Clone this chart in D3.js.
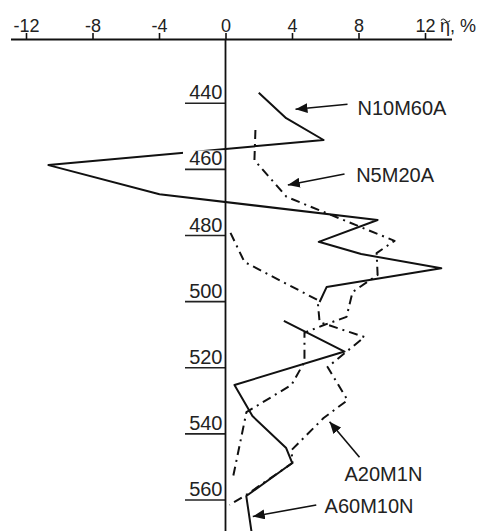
<!DOCTYPE html>
<html>
<head>
<meta charset="utf-8">
<script src="https://cdn.jsdelivr.net/npm/d3@7/dist/d3.min.js"></script>
<style>
  html, body { margin: 0; padding: 0; background: #fff; }
  svg { display: block; }
  text { font-family: "Liberation Sans", Arial, sans-serif; fill: #222; }
</style>
</head>
<body>
<svg id="chart" width="491" height="531"></svg>
<script>
// ---- data ----
const xTicks = [-12, -8, -4, 0, 4, 8, 12];
const yTicks = [440, 460, 480, 500, 520, 540, 560];
const xAxisTitle = "η, %";   // η carries a tilde accent drawn above it

const seriesNames = ["N10M60A", "N5M20A", "A20M1N", "A60M10N"];

const n10m60aX = [2.0, 3.65, 5.9, -10.65, -3.97, 9.15, 5.61, 8.16, 12.98, 6.08, 5.66];
const n10m60aY = [436.8, 444.5, 451.1, 458.7, 467.5, 475.3, 481.9, 485.6, 489.9, 495.6, 500.1];

const n5m20aX = [1.80, 1.74, 3.67, 10.17, 9.09, 9.15, 7.64, 7.28, 5.96, 4.75, 4.75, 3.97, 1.26, 0.42];
const n5m20aY = [448.1, 457.2, 468.3, 481.6, 485.3, 491.9, 497.1, 504.6, 507.0, 509.4, 518.2, 525.2, 533.4, 553.9];

const a20m1nX = [0.30, 1.14, 5.54, 5.66, 8.36, 6.14, 7.34, 5.90, 3.97, 4.03, 1.26, 0.24];
const a20m1nY = [479.2, 488.0, 499.5, 506.2, 510.7, 519.8, 529.8, 535.2, 544.9, 548.8, 558.4, 561.5];

const a60m10nX = [3.51, 7.16, 0.54, 1.62, 3.65, 4.01, 1.25, 1.56];
const a60m10nY = [505.8, 515.1, 525.2, 534.6, 544.3, 548.8, 558.8, 569.4];

// annotation label + arrow (tail -> head), in data units
const labelX = [7.94, 7.86, 7.16, 5.96];
const labelY = [443.5, 463.7, 554.2, 563.8];
const arrowTailX = [7.34, 7.16, 8.06, 5.46];
const arrowTailY = [440.3, 461.4, 547.1, 561.5];
const arrowHeadX = [4.21, 3.75, 6.26, 1.64];
const arrowHeadY = [441.8, 464.7, 536.3, 565.0];

// ---- chart ----
const svg = d3.select("#chart");
const x = d3.scaleLinear().domain([-12, 12]).range([26, 425]);
const y = d3.scaleLinear().domain([440, 560]).range([103.3, 500]);
const axisY = 39.5;

const defs = svg.append("defs");
defs.append("marker")
  .attr("id", "arr").attr("viewBox", "0 0 12 10")
  .attr("refX", 12).attr("refY", 5)
  .attr("markerWidth", 12).attr("markerHeight", 10)
  .attr("markerUnits", "userSpaceOnUse")
  .attr("orient", "auto")
  .append("path").attr("d", "M0,0 L12,5 L0,10 Z").attr("fill", "#111");

const line = d3.line().x(d => x(d[0])).y(d => y(d[1]));
const solidStyle = { stroke: "#111", width: 2, dash: null };
const dashStyle = { stroke: "#111", width: 2, dash: "9,5,2,5" };

const series = [
  { xs: n10m60aX, ys: n10m60aY, st: solidStyle },
  { xs: n5m20aX, ys: n5m20aY, st: dashStyle },
  { xs: a20m1nX, ys: a20m1nY, st: dashStyle },
  { xs: a60m10nX, ys: a60m10nY, st: solidStyle }
];

series.forEach(s => {
  const pts = s.xs.map((v, i) => [v, s.ys[i]]);
  svg.append("path")
    .attr("d", line(pts))
    .attr("fill", "none")
    .attr("stroke", s.st.stroke)
    .attr("stroke-width", s.st.width)
    .attr("stroke-linejoin", "round")
    .attr("stroke-dasharray", s.st.dash);
});

// y tick labels (with white background) and underline
const yg = svg.append("g");
yTicks.forEach(t => {
  const yy = y(t);
  yg.append("rect")
    .attr("x", 183).attr("y", yy - 19)
    .attr("width", x(0) - 1 - 183).attr("height", 18)
    .attr("fill", "#fff");
  yg.append("text")
    .attr("x", x(0) - 3).attr("y", yy - 4)
    .attr("text-anchor", "end")
    .attr("font-size", 20)
    .text(t);
  yg.append("line")
    .attr("x1", 185).attr("x2", x(0))
    .attr("y1", yy).attr("y2", yy)
    .attr("stroke", "#222").attr("stroke-width", 1.6);
});

// vertical axis
svg.append("line")
  .attr("x1", x(0)).attr("x2", x(0))
  .attr("y1", axisY).attr("y2", 531)
  .attr("stroke", "#111").attr("stroke-width", 1.8);

// top axis
const xAxis = d3.axisTop(x).tickValues(xTicks).tickFormat(d => String(d))
  .tickSizeInner(6.5).tickSizeOuter(0).tickPadding(1);
const xg = svg.append("g").attr("transform", `translate(0,${axisY})`).call(xAxis);
xg.select(".domain").remove();
xg.selectAll(".tick line").attr("stroke", "#111").attr("stroke-width", 1.6);
xg.selectAll(".tick text")
  .attr("font-size", 18)
  .attr("font-family", "Liberation Sans, Arial, sans-serif")
  .attr("fill", "#222");
svg.append("line")
  .attr("x1", 11).attr("x2", 452)
  .attr("y1", axisY).attr("y2", axisY)
  .attr("stroke", "#111").attr("stroke-width", 1.8);

// axis title with a drawn tilde accent over the eta
svg.append("text")
  .attr("x", 440).attr("y", 32)
  .attr("font-size", 18)
  .text(xAxisTitle);
svg.append("path")
  .attr("d", "M441,20.5 q2.2,-3 4.5,0 t4.5,0")
  .attr("fill", "none")
  .attr("stroke", "#222")
  .attr("stroke-width", 1.2);

// annotations
seriesNames.forEach((name, i) => {
  svg.append("line")
    .attr("x1", x(arrowTailX[i])).attr("y1", y(arrowTailY[i]))
    .attr("x2", x(arrowHeadX[i])).attr("y2", y(arrowHeadY[i]))
    .attr("stroke", "#111").attr("stroke-width", 1.6)
    .attr("marker-end", "url(#arr)");
  svg.append("text")
    .attr("x", x(labelX[i])).attr("y", y(labelY[i]))
    .attr("font-size", 20)
    .text(name);
});
</script>
</body>
</html>
